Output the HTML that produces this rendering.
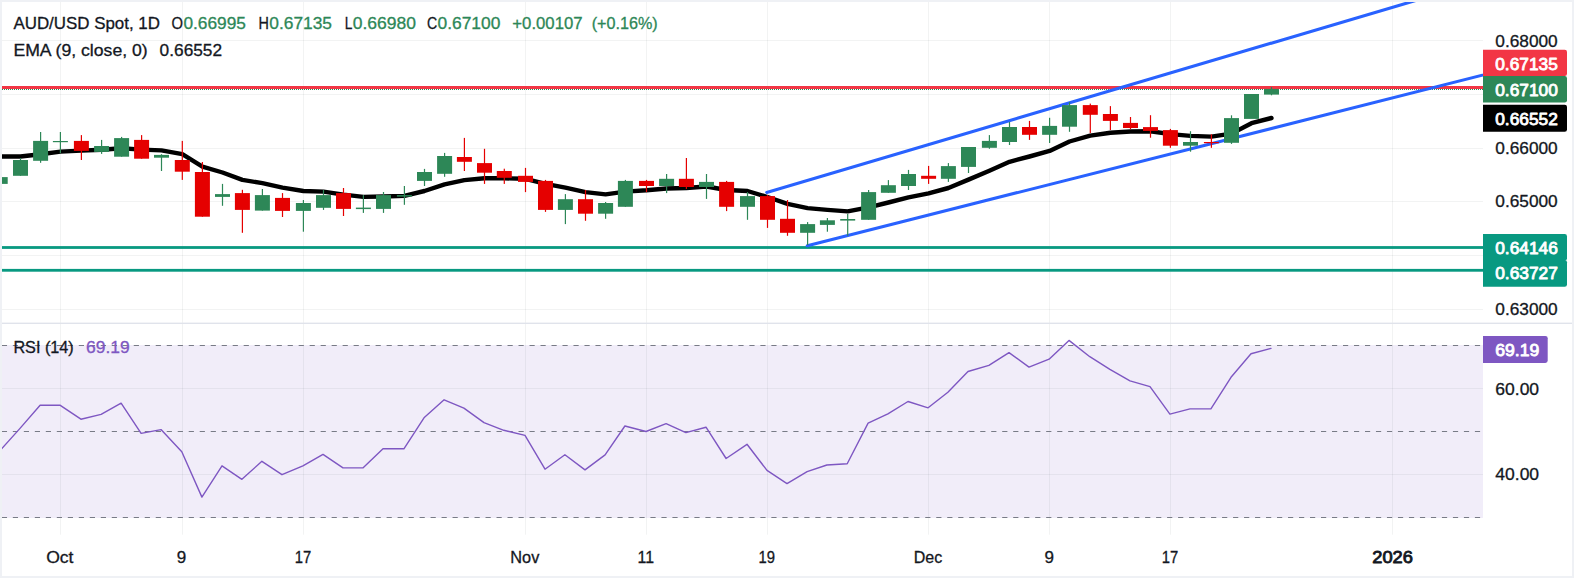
<!DOCTYPE html>
<html lang="en"><head><meta charset="utf-8"><title>AUD/USD Spot, 1D</title>
<style>html,body{margin:0;padding:0;background:#fff;overflow:hidden}body{width:1574px;height:578px;position:relative;font-family:"Liberation Sans",sans-serif}</style>
</head><body>
<svg width="1574" height="578" viewBox="0 0 1574 578" style="position:absolute;left:0;top:0;display:block" font-family="'Liberation Sans', sans-serif">
<rect x="0" y="0" width="1574" height="578" fill="#ffffff"/>
<defs><clipPath id="cm"><rect x="1.5" y="1.5" width="1481.5" height="321.5"/></clipPath><clipPath id="cr"><rect x="1.5" y="324" width="1481.5" height="211"/></clipPath></defs>
<rect x="1.5" y="345" width="1481.5" height="173" fill="#f1edf9"/>
<rect x="60.0" y="1.5" width="1" height="533.2" fill="#2a2e39" fill-opacity="0.06"/>
<rect x="182.0" y="1.5" width="1" height="533.2" fill="#2a2e39" fill-opacity="0.06"/>
<rect x="303.0" y="1.5" width="1" height="533.2" fill="#2a2e39" fill-opacity="0.06"/>
<rect x="525.0" y="1.5" width="1" height="533.2" fill="#2a2e39" fill-opacity="0.06"/>
<rect x="646.0" y="1.5" width="1" height="533.2" fill="#2a2e39" fill-opacity="0.06"/>
<rect x="767.0" y="1.5" width="1" height="533.2" fill="#2a2e39" fill-opacity="0.06"/>
<rect x="928.0" y="1.5" width="1" height="533.2" fill="#2a2e39" fill-opacity="0.06"/>
<rect x="1049.0" y="1.5" width="1" height="533.2" fill="#2a2e39" fill-opacity="0.06"/>
<rect x="1170.0" y="1.5" width="1" height="533.2" fill="#2a2e39" fill-opacity="0.06"/>
<rect x="1392.0" y="1.5" width="1" height="533.2" fill="#2a2e39" fill-opacity="0.06"/>
<rect x="1.5" y="40.0" width="1481.5" height="1" fill="#2a2e39" fill-opacity="0.06"/>
<rect x="1.5" y="94.0" width="1481.5" height="1" fill="#2a2e39" fill-opacity="0.06"/>
<rect x="1.5" y="148.0" width="1481.5" height="1" fill="#2a2e39" fill-opacity="0.06"/>
<rect x="1.5" y="201.0" width="1481.5" height="1" fill="#2a2e39" fill-opacity="0.06"/>
<rect x="1.5" y="255.0" width="1481.5" height="1" fill="#2a2e39" fill-opacity="0.06"/>
<rect x="1.5" y="309.0" width="1481.5" height="1" fill="#2a2e39" fill-opacity="0.06"/>
<rect x="1.5" y="388.0" width="1481.5" height="1" fill="#2a2e39" fill-opacity="0.06"/>
<rect x="1.5" y="474.0" width="1481.5" height="1" fill="#2a2e39" fill-opacity="0.06"/>
<rect x="0" y="322.6" width="1574" height="1.4" fill="#e0e3eb"/>
<g clip-path="url(#cm)">
<rect x="0" y="246.1" width="1483" height="2.8" fill="#089981"/>
<rect x="0" y="268.9" width="1483" height="2.8" fill="#089981"/>
<line x1="0" y1="89.5" x2="1483" y2="89.5" stroke="#2d8757" stroke-width="1" stroke-dasharray="1 1" shape-rendering="crispEdges"/>
<rect x="0" y="86" width="1483" height="3" fill="#f23645"/>
<polyline points="-20,156.5 0.2,156.5 20.5,156.5 40.6,154.2 60.4,151.6 81.4,150.6 101.6,149.8 121.6,148.3 141.6,149.6 161.5,150.4 182.3,154.2 202.4,166.6 222.5,172.5 242.4,179.9 262.4,183.2 282.5,187.7 303.4,191.0 323.5,191.6 343.5,194.6 363.4,196.9 383.5,196.5 404.4,195.9 424.5,191.0 444.6,184.4 464.4,180.1 484.5,178.3 504.3,178.3 525.5,178.8 545.5,183.9 565.4,187.7 585.5,192.1 605.6,194.4 625.4,191.6 646.5,190.3 666.6,188.5 686.4,188.0 706.5,186.5 726.6,190.0 747.5,191.0 767.5,197.0 787.5,203.8 807.6,208.1 827.4,209.9 847.7,211.4 868.6,207.3 888.4,202.5 908.5,197.4 928.6,193.3 948.4,188.0 968.5,179.6 989.4,170.7 1009.5,161.8 1029.5,156.5 1049.6,150.9 1069.5,141.5 1090.3,135.6 1110.4,132.8 1130.5,131.5 1150.5,131.2 1170.4,134.1 1190.5,135.9 1211.4,136.6 1231.5,133.6 1251.5,123.2 1271.5,118.0" fill="none" stroke="#000000" stroke-width="4.4" stroke-linejoin="round" stroke-linecap="round"/>
<line x1="766.7" y1="192.39304911955514" x2="1440.0" y2="-6.7" stroke="#2962ff" stroke-width="3.1" stroke-linecap="round"/>
<line x1="807.3" y1="245.7" x2="1500.0" y2="70.7" stroke="#2962ff" stroke-width="3.1" stroke-linecap="round"/>
<rect x="-7.3" y="177.1" width="15" height="6.8" fill="#2d8757"/>
<rect x="19.90" y="158.0" width="1.2" height="17.8" fill="#2d8757"/>
<rect x="13.0" y="160.0" width="15" height="15.8" fill="#2d8757"/>
<rect x="40.00" y="132.0" width="1.2" height="30.8" fill="#2d8757"/>
<rect x="33.1" y="140.9" width="15" height="19.9" fill="#2d8757"/>
<rect x="59.80" y="132.0" width="1.2" height="21.2" fill="#2d8757"/>
<rect x="52.9" y="141.0" width="15" height="1.2" fill="#2d8757"/>
<rect x="80.80" y="135.1" width="1.2" height="24.9" fill="#e50000"/>
<rect x="73.9" y="140.9" width="15" height="10.0" fill="#e50000"/>
<rect x="101.00" y="139.9" width="1.2" height="14.0" fill="#2d8757"/>
<rect x="94.1" y="146.0" width="15" height="5.9" fill="#2d8757"/>
<rect x="121.00" y="136.9" width="1.2" height="19.8" fill="#2d8757"/>
<rect x="114.1" y="138.1" width="15" height="18.6" fill="#2d8757"/>
<rect x="141.00" y="135.1" width="1.2" height="23.6" fill="#e50000"/>
<rect x="134.1" y="139.9" width="15" height="18.8" fill="#e50000"/>
<rect x="160.90" y="154.2" width="1.2" height="16.8" fill="#2d8757"/>
<rect x="154.0" y="154.9" width="15" height="2.8" fill="#2d8757"/>
<rect x="181.70" y="140.9" width="1.2" height="39.0" fill="#e50000"/>
<rect x="174.8" y="160.0" width="15" height="11.7" fill="#e50000"/>
<rect x="201.80" y="162.0" width="1.2" height="54.7" fill="#e50000"/>
<rect x="194.9" y="172.0" width="15" height="44.7" fill="#e50000"/>
<rect x="221.90" y="183.9" width="1.2" height="21.9" fill="#2d8757"/>
<rect x="215.0" y="194.1" width="15" height="2.8" fill="#2d8757"/>
<rect x="241.80" y="189.8" width="1.2" height="43.0" fill="#e50000"/>
<rect x="234.9" y="193.1" width="15" height="16.8" fill="#e50000"/>
<rect x="261.80" y="189.0" width="1.2" height="21.6" fill="#2d8757"/>
<rect x="254.9" y="195.1" width="15" height="15.5" fill="#2d8757"/>
<rect x="281.90" y="193.1" width="1.2" height="23.9" fill="#e50000"/>
<rect x="275.0" y="197.9" width="15" height="13.0" fill="#e50000"/>
<rect x="302.80" y="200.0" width="1.2" height="31.7" fill="#2d8757"/>
<rect x="295.9" y="203.0" width="15" height="7.9" fill="#2d8757"/>
<rect x="322.90" y="190.0" width="1.2" height="19.9" fill="#2d8757"/>
<rect x="316.0" y="195.1" width="15" height="12.7" fill="#2d8757"/>
<rect x="342.90" y="188.0" width="1.2" height="28.0" fill="#e50000"/>
<rect x="336.0" y="193.1" width="15" height="15.8" fill="#e50000"/>
<rect x="362.80" y="195.1" width="1.2" height="17.8" fill="#2d8757"/>
<rect x="355.9" y="207.6" width="15" height="1.5" fill="#2d8757"/>
<rect x="382.90" y="192.0" width="1.2" height="20.9" fill="#2d8757"/>
<rect x="376.0" y="195.1" width="15" height="13.8" fill="#2d8757"/>
<rect x="403.80" y="186.0" width="1.2" height="18.8" fill="#2d8757"/>
<rect x="396.9" y="195.1" width="15" height="1.5" fill="#2d8757"/>
<rect x="423.90" y="168.9" width="1.2" height="17.1" fill="#2d8757"/>
<rect x="417.0" y="172.0" width="15" height="8.9" fill="#2d8757"/>
<rect x="444.00" y="152.9" width="1.2" height="23.9" fill="#2d8757"/>
<rect x="437.1" y="156.0" width="15" height="17.8" fill="#2d8757"/>
<rect x="463.80" y="137.9" width="1.2" height="33.1" fill="#e50000"/>
<rect x="456.9" y="157.0" width="15" height="4.8" fill="#e50000"/>
<rect x="483.90" y="148.8" width="1.2" height="35.1" fill="#e50000"/>
<rect x="477.0" y="163.1" width="15" height="9.6" fill="#e50000"/>
<rect x="503.70" y="168.7" width="1.2" height="15.2" fill="#e50000"/>
<rect x="496.8" y="171.0" width="15" height="6.8" fill="#e50000"/>
<rect x="524.90" y="167.9" width="1.2" height="24.2" fill="#e50000"/>
<rect x="518.0" y="175.8" width="15" height="6.1" fill="#e50000"/>
<rect x="544.90" y="179.9" width="1.2" height="32.0" fill="#e50000"/>
<rect x="538.0" y="180.9" width="15" height="29.0" fill="#e50000"/>
<rect x="564.80" y="194.1" width="1.2" height="30.0" fill="#2d8757"/>
<rect x="557.9" y="199.2" width="15" height="10.7" fill="#2d8757"/>
<rect x="584.90" y="190.0" width="1.2" height="30.8" fill="#e50000"/>
<rect x="578.0" y="199.2" width="15" height="14.5" fill="#e50000"/>
<rect x="605.00" y="202.0" width="1.2" height="16.8" fill="#2d8757"/>
<rect x="598.1" y="203.0" width="15" height="10.7" fill="#2d8757"/>
<rect x="624.80" y="179.9" width="1.2" height="26.9" fill="#2d8757"/>
<rect x="617.9" y="180.9" width="15" height="25.9" fill="#2d8757"/>
<rect x="645.90" y="179.9" width="1.2" height="12.2" fill="#e50000"/>
<rect x="639.0" y="180.9" width="15" height="5.1" fill="#e50000"/>
<rect x="666.00" y="174.0" width="1.2" height="19.1" fill="#2d8757"/>
<rect x="659.1" y="178.8" width="15" height="7.2" fill="#2d8757"/>
<rect x="685.80" y="158.0" width="1.2" height="31.0" fill="#e50000"/>
<rect x="678.9" y="178.8" width="15" height="8.2" fill="#e50000"/>
<rect x="705.90" y="174.0" width="1.2" height="24.9" fill="#2d8757"/>
<rect x="699.0" y="181.9" width="15" height="5.1" fill="#2d8757"/>
<rect x="726.00" y="180.9" width="1.2" height="30.2" fill="#e50000"/>
<rect x="719.1" y="181.9" width="15" height="24.9" fill="#e50000"/>
<rect x="746.90" y="192.1" width="1.2" height="27.7" fill="#2d8757"/>
<rect x="740.0" y="196.1" width="15" height="10.7" fill="#2d8757"/>
<rect x="766.90" y="195.1" width="1.2" height="32.8" fill="#e50000"/>
<rect x="760.0" y="196.1" width="15" height="23.7" fill="#e50000"/>
<rect x="786.90" y="200.0" width="1.2" height="35.8" fill="#e50000"/>
<rect x="780.0" y="218.8" width="15" height="14.0" fill="#e50000"/>
<rect x="807.00" y="222.1" width="1.2" height="22.9" fill="#2d8757"/>
<rect x="800.1" y="224.1" width="15" height="8.7" fill="#2d8757"/>
<rect x="826.80" y="218.0" width="1.2" height="13.7" fill="#2d8757"/>
<rect x="819.9" y="220.3" width="15" height="4.6" fill="#2d8757"/>
<rect x="847.10" y="213.9" width="1.2" height="21.9" fill="#2d8757"/>
<rect x="840.2" y="219.0" width="15" height="1.6" fill="#2d8757"/>
<rect x="868.00" y="190.0" width="1.2" height="29.8" fill="#2d8757"/>
<rect x="861.1" y="192.1" width="15" height="27.7" fill="#2d8757"/>
<rect x="887.80" y="180.1" width="1.2" height="12.7" fill="#2d8757"/>
<rect x="880.9" y="185.2" width="15" height="7.6" fill="#2d8757"/>
<rect x="907.90" y="169.9" width="1.2" height="20.1" fill="#2d8757"/>
<rect x="901.0" y="174.0" width="15" height="12.0" fill="#2d8757"/>
<rect x="928.00" y="165.9" width="1.2" height="18.0" fill="#e50000"/>
<rect x="921.1" y="175.8" width="15" height="3.0" fill="#e50000"/>
<rect x="947.80" y="163.1" width="1.2" height="18.8" fill="#2d8757"/>
<rect x="940.9" y="166.1" width="15" height="12.7" fill="#2d8757"/>
<rect x="967.90" y="147.0" width="1.2" height="26.0" fill="#2d8757"/>
<rect x="961.0" y="147.0" width="15" height="19.9" fill="#2d8757"/>
<rect x="988.80" y="135.1" width="1.2" height="13.7" fill="#2d8757"/>
<rect x="981.9" y="140.9" width="15" height="6.9" fill="#2d8757"/>
<rect x="1008.90" y="121.9" width="1.2" height="23.1" fill="#2d8757"/>
<rect x="1002.0" y="127.0" width="15" height="15.0" fill="#2d8757"/>
<rect x="1028.90" y="120.9" width="1.2" height="19.0" fill="#e50000"/>
<rect x="1022.0" y="127.0" width="15" height="7.8" fill="#e50000"/>
<rect x="1049.00" y="117.8" width="1.2" height="25.2" fill="#2d8757"/>
<rect x="1042.1" y="125.9" width="15" height="8.9" fill="#2d8757"/>
<rect x="1068.90" y="102.0" width="1.2" height="29.8" fill="#2d8757"/>
<rect x="1062.0" y="105.1" width="15" height="21.6" fill="#2d8757"/>
<rect x="1089.70" y="103.6" width="1.2" height="29.4" fill="#e50000"/>
<rect x="1082.8" y="105.1" width="15" height="9.7" fill="#e50000"/>
<rect x="1109.80" y="106.1" width="1.2" height="23.9" fill="#e50000"/>
<rect x="1102.9" y="114.0" width="15" height="6.9" fill="#e50000"/>
<rect x="1129.90" y="117.0" width="1.2" height="12.0" fill="#e50000"/>
<rect x="1123.0" y="122.9" width="15" height="5.1" fill="#e50000"/>
<rect x="1149.90" y="115.2" width="1.2" height="22.5" fill="#e50000"/>
<rect x="1143.0" y="127.1" width="15" height="3.8" fill="#e50000"/>
<rect x="1169.80" y="128.9" width="1.2" height="18.9" fill="#e50000"/>
<rect x="1162.9" y="130.1" width="15" height="15.6" fill="#e50000"/>
<rect x="1189.90" y="131.2" width="1.2" height="20.5" fill="#2d8757"/>
<rect x="1183.0" y="142.0" width="15" height="3.7" fill="#2d8757"/>
<rect x="1210.80" y="134.3" width="1.2" height="13.5" fill="#e50000"/>
<rect x="1203.9" y="142.0" width="15" height="1.2" fill="#e50000"/>
<rect x="1230.90" y="115.3" width="1.2" height="28.6" fill="#2d8757"/>
<rect x="1224.0" y="118.1" width="15" height="24.7" fill="#2d8757"/>
<rect x="1244.0" y="94.0" width="15" height="24.9" fill="#2d8757"/>
<rect x="1270.90" y="87.0" width="1.2" height="8.3" fill="#2d8757"/>
<rect x="1264.0" y="88.9" width="15" height="5.7" fill="#2d8757"/>
</g>
<g clip-path="url(#cr)">
<line x1="1480.1" y1="345.5" x2="0" y2="345.5" stroke="#787b86" stroke-width="1.1" stroke-dasharray="5.2 5.793"/>
<line x1="1480.1" y1="431.5" x2="0" y2="431.5" stroke="#787b86" stroke-width="1.1" stroke-dasharray="5.2 5.793"/>
<line x1="1480.1" y1="517.5" x2="0" y2="517.5" stroke="#787b86" stroke-width="1.1" stroke-dasharray="5.2 5.793"/>
<polyline points="-20,474 -0.3,451.0 20.0,428.4 40.1,405.2 59.9,405.2 80.9,419.2 101.1,414.4 121.1,403.2 141.1,433.4 161.0,429.6 181.8,451.8 201.9,497.1 222.0,465.8 241.9,479.3 261.9,461.3 282.0,474.7 302.9,465.8 323.0,454.4 343.0,467.9 362.9,467.9 383.0,448.8 403.9,448.8 424.0,417.8 444.1,399.8 463.9,408.1 484.0,422.6 503.8,430.3 525.0,435.4 545.0,469.2 564.9,454.7 585.0,469.9 605.1,454.9 624.9,426.0 646.0,431.5 666.1,423.7 685.9,432.6 706.0,427.2 726.1,458.5 747.0,444.3 767.0,470.4 787.0,483.6 807.1,471.7 826.9,465.0 847.2,463.8 868.1,423.1 887.9,413.9 908.0,401.5 928.1,407.8 947.9,392.3 968.0,371.5 988.9,365.4 1009.0,352.6 1029.0,367.1 1049.1,359.2 1069.0,340.4 1089.8,356.7 1109.9,369.4 1130.0,380.9 1150.0,386.6 1169.9,414.1 1190.0,408.9 1210.9,408.9 1231.0,377.3 1251.0,353.8 1271.0,348.4" fill="none" stroke="#7e57c2" stroke-width="1.4" stroke-linejoin="round" stroke-linecap="round"/>
</g>
<text x="13.4" y="29.2" font-size="17" fill="#131722" stroke="#131722" stroke-width="0.3" textLength="146.6" lengthAdjust="spacingAndGlyphs">AUD/USD Spot, 1D</text>
<text x="171.5" y="29.2" font-size="17" fill="#131722" stroke="#131722" stroke-width="0.3" textLength="11.5" lengthAdjust="spacingAndGlyphs">O</text>
<text x="183.4" y="29.2" font-size="17" fill="#2d8757" stroke="#2d8757" stroke-width="0.3" textLength="62.5" lengthAdjust="spacingAndGlyphs">0.66995</text>
<text x="258.5" y="29.2" font-size="17" fill="#131722" stroke="#131722" stroke-width="0.3" textLength="10.4" lengthAdjust="spacingAndGlyphs">H</text>
<text x="269.3" y="29.2" font-size="17" fill="#2d8757" stroke="#2d8757" stroke-width="0.3" textLength="62.7" lengthAdjust="spacingAndGlyphs">0.67135</text>
<text x="344.7" y="29.2" font-size="17" fill="#131722" stroke="#131722" stroke-width="0.3" textLength="7.6" lengthAdjust="spacingAndGlyphs">L</text>
<text x="352.7" y="29.2" font-size="17" fill="#2d8757" stroke="#2d8757" stroke-width="0.3" textLength="63.2" lengthAdjust="spacingAndGlyphs">0.66980</text>
<text x="426.9" y="29.2" font-size="17" fill="#131722" stroke="#131722" stroke-width="0.3" textLength="10.2" lengthAdjust="spacingAndGlyphs">C</text>
<text x="437.5" y="29.2" font-size="17" fill="#2d8757" stroke="#2d8757" stroke-width="0.3" textLength="62.9" lengthAdjust="spacingAndGlyphs">0.67100</text>
<text x="512.3" y="29.2" font-size="17" fill="#2d8757" stroke="#2d8757" stroke-width="0.3" textLength="70.3" lengthAdjust="spacingAndGlyphs">+0.00107</text>
<text x="591.7" y="29.2" font-size="17" fill="#2d8757" stroke="#2d8757" stroke-width="0.3" textLength="66.0" lengthAdjust="spacingAndGlyphs">(+0.16%)</text>
<text x="13.4" y="55.8" font-size="17" fill="#131722" stroke="#131722" stroke-width="0.3" textLength="134.3" lengthAdjust="spacingAndGlyphs">EMA (9, close, 0)</text>
<text x="159.6" y="55.8" font-size="17" fill="#131722" stroke="#131722" stroke-width="0.3" textLength="62.5" lengthAdjust="spacingAndGlyphs">0.66552</text>
<text x="13.4" y="353.0" font-size="17" fill="#131722" stroke="#131722" stroke-width="0.3" textLength="60.3" lengthAdjust="spacingAndGlyphs">RSI (14)</text>
<text x="86.0" y="353.0" font-size="17" fill="#7e57c2" stroke="#7e57c2" stroke-width="0.3" textLength="43.7" lengthAdjust="spacingAndGlyphs">69.19</text>
<text x="1495.3" y="46.5" font-size="17" fill="#131722" stroke="#131722" stroke-width="0.3" textLength="62.4" lengthAdjust="spacingAndGlyphs">0.68000</text>
<text x="1495.3" y="154.0" font-size="17" fill="#131722" stroke="#131722" stroke-width="0.3" textLength="62.4" lengthAdjust="spacingAndGlyphs">0.66000</text>
<text x="1495.3" y="207.3" font-size="17" fill="#131722" stroke="#131722" stroke-width="0.3" textLength="62.4" lengthAdjust="spacingAndGlyphs">0.65000</text>
<text x="1495.3" y="315.2" font-size="17" fill="#131722" stroke="#131722" stroke-width="0.3" textLength="62.4" lengthAdjust="spacingAndGlyphs">0.63000</text>
<text x="1495.3" y="394.6" font-size="17" fill="#131722" stroke="#131722" stroke-width="0.3" textLength="43.8" lengthAdjust="spacingAndGlyphs">60.00</text>
<text x="1495.3" y="480.1" font-size="17" fill="#131722" stroke="#131722" stroke-width="0.3" textLength="43.8" lengthAdjust="spacingAndGlyphs">40.00</text>
<path d="M1483,49.8 H1564.7 Q1567.0,49.8 1567.0,52.1 V73.8 Q1567.0,76.1 1564.7,76.1 H1483 Z" fill="#f23645"/>
<text x="1495.2" y="70.0" font-size="17" fill="#ffffff" stroke="#ffffff" stroke-width="0.85" stroke-linejoin="round" font-weight="semi" textLength="62.6" lengthAdjust="spacingAndGlyphs">0.67135</text>
<path d="M1483,76.1 H1564.7 Q1567.0,76.1 1567.0,78.4 V100.3 Q1567.0,102.6 1564.7,102.6 H1483 Z" fill="#2d8757"/>
<text x="1495.2" y="95.8" font-size="17" fill="#ffffff" stroke="#ffffff" stroke-width="0.85" stroke-linejoin="round" font-weight="semi" textLength="62.6" lengthAdjust="spacingAndGlyphs">0.67100</text>
<path d="M1483,104.8 H1564.7 Q1567.0,104.8 1567.0,107.1 V129.5 Q1567.0,131.8 1564.7,131.8 H1483 Z" fill="#000000"/>
<text x="1495.2" y="125.0" font-size="17" fill="#ffffff" stroke="#ffffff" stroke-width="0.85" stroke-linejoin="round" font-weight="semi" textLength="62.6" lengthAdjust="spacingAndGlyphs">0.66552</text>
<path d="M1483,234.1 H1564.7 Q1567.0,234.1 1567.0,236.4 V258.2 Q1567.0,260.5 1564.7,260.5 H1483 Z" fill="#089981"/>
<text x="1495.2" y="253.7" font-size="17" fill="#ffffff" stroke="#ffffff" stroke-width="0.85" stroke-linejoin="round" font-weight="semi" textLength="62.6" lengthAdjust="spacingAndGlyphs">0.64146</text>
<path d="M1483,260.0 H1564.7 Q1567.0,260.0 1567.0,262.3 V284.5 Q1567.0,286.8 1564.7,286.8 H1483 Z" fill="#089981"/>
<text x="1495.2" y="279.1" font-size="17" fill="#ffffff" stroke="#ffffff" stroke-width="0.85" stroke-linejoin="round" font-weight="semi" textLength="62.6" lengthAdjust="spacingAndGlyphs">0.63727</text>
<path d="M1483,336.0 H1545.4 Q1547.7,336.0 1547.7,338.3 V360.6 Q1547.7,362.9 1545.4,362.9 H1483 Z" fill="#7e57c2"/>
<text x="1495.2" y="355.9" font-size="17" fill="#ffffff" stroke="#ffffff" stroke-width="0.85" stroke-linejoin="round" font-weight="semi" textLength="44.0" lengthAdjust="spacingAndGlyphs">69.19</text>
<text x="59.8" y="562.8" font-size="17" fill="#131722" stroke="#131722" stroke-width="0.3" text-anchor="middle" textLength="27.3" lengthAdjust="spacingAndGlyphs">Oct</text>
<text x="181.6" y="562.8" font-size="17" fill="#131722" stroke="#131722" stroke-width="0.3" text-anchor="middle">9</text>
<text x="302.9" y="562.8" font-size="17" fill="#131722" stroke="#131722" stroke-width="0.3" text-anchor="middle" textLength="16.5" lengthAdjust="spacingAndGlyphs">17</text>
<text x="524.8" y="562.8" font-size="17" fill="#131722" stroke="#131722" stroke-width="0.3" text-anchor="middle" textLength="29.0" lengthAdjust="spacingAndGlyphs">Nov</text>
<text x="645.8" y="562.8" font-size="17" fill="#131722" stroke="#131722" stroke-width="0.3" text-anchor="middle" textLength="16.5" lengthAdjust="spacingAndGlyphs">11</text>
<text x="766.8" y="562.8" font-size="17" fill="#131722" stroke="#131722" stroke-width="0.3" text-anchor="middle" textLength="16.5" lengthAdjust="spacingAndGlyphs">19</text>
<text x="927.9" y="562.8" font-size="17" fill="#131722" stroke="#131722" stroke-width="0.3" text-anchor="middle" textLength="28.5" lengthAdjust="spacingAndGlyphs">Dec</text>
<text x="1049.2" y="562.8" font-size="17" fill="#131722" stroke="#131722" stroke-width="0.3" text-anchor="middle">9</text>
<text x="1170.1" y="562.8" font-size="17" fill="#131722" stroke="#131722" stroke-width="0.3" text-anchor="middle" textLength="16.5" lengthAdjust="spacingAndGlyphs">17</text>
<text x="1392.6" y="562.8" font-size="17" fill="#131722" stroke="#131722" stroke-width="0.85" stroke-linejoin="round" font-weight="semi" text-anchor="middle" textLength="40.6" lengthAdjust="spacingAndGlyphs">2026</text>
<rect x="0" y="0" width="1574" height="2" fill="#eff1f5"/>
<rect x="0" y="0" width="2" height="578" fill="#eff1f5"/>
<rect x="1572" y="0" width="2" height="578" fill="#eff1f5"/>
<rect x="0" y="576" width="1574" height="2" fill="#eff1f5"/>
</svg>
</body></html>
